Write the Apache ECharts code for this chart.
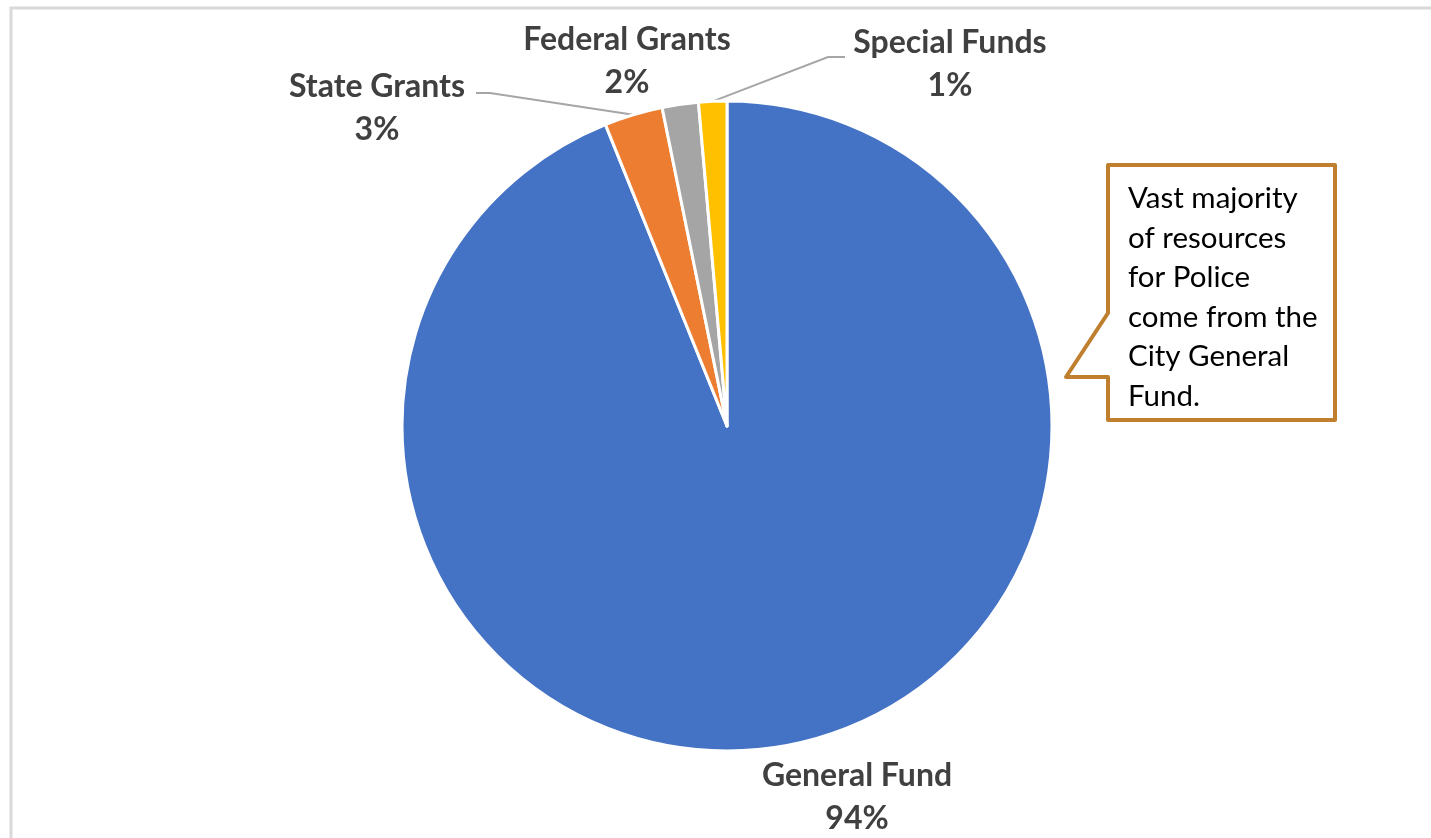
<!DOCTYPE html>
<html>
<head>
<meta charset="utf-8">
<script src="https://cdn.jsdelivr.net/npm/echarts@6/dist/echarts.min.js"></script>
<style>
html,body{margin:0;padding:0;background:#fff;}
#chart{width:1431px;height:838px;}
</style>
</head>
<body>
<div id="chart"></div>
<script>
// ---- data ----
const categories = ['General Fund', 'State Grants', 'Federal Grants', 'Special Funds'];
const values = [93.9, 2.9, 1.8, 1.4];
const sliceColors = ['#4472C4', '#ED7D31', '#A5A5A5', '#FFC000'];
const calloutLines = ['Vast majority', 'of resources', 'for Police', 'come from the', 'City General', 'Fund.'];

// ---- layout (label centres, leader elbows) ----
const labelPos = [
  { x: 857, y: 797 },
  { x: 377, y: 108 },
  { x: 627, y: 61 },
  { x: 950, y: 64 }
];
const labelElbows = [
  null,
  [[490, 93], [476, 93]],
  null,
  [[828, 57], [845, 57]]
];

const chart = echarts.init(document.getElementById('chart'), null, { renderer: 'canvas' });

const data = categories.map((name, i) => ({
  name: name,
  value: values[i],
  itemStyle: { color: sliceColors[i] },
  labelLine: { show: labelElbows[i] !== null }
}));

const calloutText = calloutLines.join('\n');

chart.setOption({
  animation: false,
  backgroundColor: '#ffffff',
  graphic: [
    {
      type: 'rect',
      shape: { x: 11, y: 8, width: 1500, height: 900 },
      style: { fill: 'none', stroke: '#D9D9D9', lineWidth: 3 },
      z: 0
    },
    {
      type: 'polygon',
      shape: {
        points: [[1108, 165], [1335, 165], [1335, 420], [1108, 420], [1108, 377], [1066, 377], [1108, 313]]
      },
      style: { fill: '#ffffff', stroke: '#BF7F2F', lineWidth: 4, lineJoin: 'round' },
      z: 10
    },
    {
      type: 'text',
      x: 1128,
      y: 179,
      style: {
        text: calloutText,
        font: '29.5px Lato, "Open Sans", sans-serif',
        fill: '#000000',
        lineHeight: 39.5
      },
      z: 11
    }
  ],
  series: [{
    type: 'pie',
    center: [727, 426],
    radius: [0, 325],
    startAngle: 90,
    clockwise: true,
    percentPrecision: 0,
    avoidLabelOverlap: false,
    itemStyle: { borderColor: '#ffffff', borderWidth: 3 },
    label: {
      show: true,
      formatter: '{b}\n{d}%',
      fontFamily: 'Lato, "Open Sans", sans-serif',
      fontWeight: 'bold',
      fontSize: 32,
      lineHeight: 43,
      color: '#404040',
      align: 'center'
    },
    labelLine: {
      show: true,
      lineStyle: { color: '#A6A6A6', width: 2 }
    },
    labelLayout: function (params) {
      const i = params.dataIndex;
      const out = {
        x: labelPos[i].x,
        y: labelPos[i].y,
        align: 'center',
        verticalAlign: 'middle'
      };
      if (labelElbows[i] && params.labelLinePoints) {
        const anchor = params.labelLinePoints[0];
        out.labelLinePoints = [anchor, labelElbows[i][0], labelElbows[i][1]];
      }
      return out;
    },
    data: data
  }]
});
</script>
</body>
</html>
